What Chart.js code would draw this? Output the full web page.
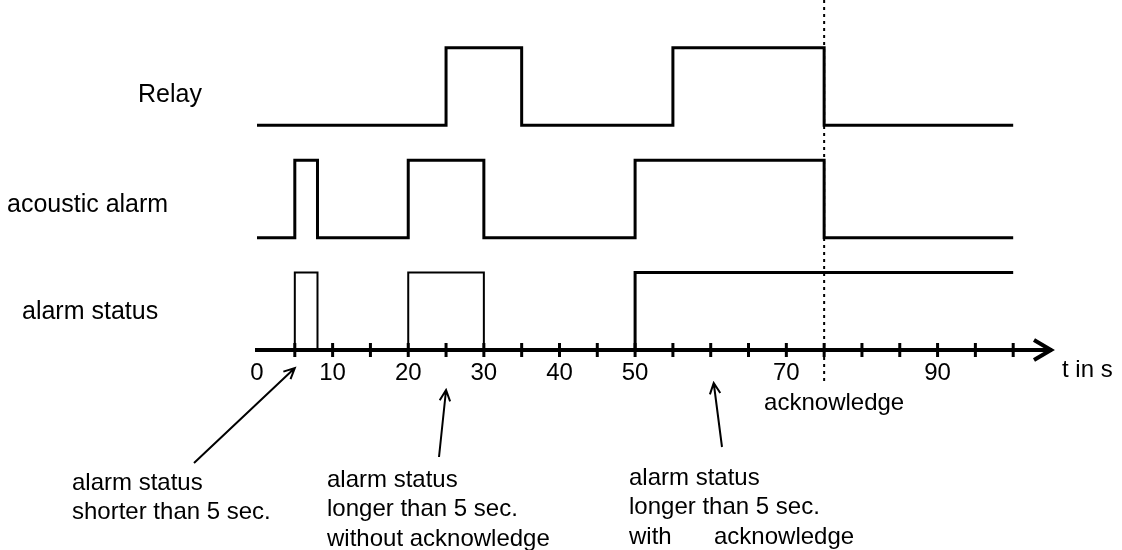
<!DOCTYPE html>
<html>
<head>
<meta charset="utf-8">
<script src="https://cdn.jsdelivr.net/npm/chart.js@4.4.1/dist/chart.umd.min.js"></script>
<style>
  html, body { margin: 0; padding: 0; background: #fff; }
  #wrap { width: 1122px; height: 550px; position: relative; }
</style>
</head>
<body>
<div id="wrap"><canvas id="timing"></canvas></div>
<script>
// switching times (s) and the state each signal takes from that time on
const relayTimes   = [0, 25, 35, 55, 75, 100];
const relayStates  = [0, 1, 0, 1, 0, 0];
const hornTimes    = [0, 5, 8, 20, 30, 50, 75, 100];
const hornStates   = [0, 1, 0, 1, 0, 1, 0, 0];
const statusTimes  = [0, 5, 8, 20, 30, 50, 100];
const statusStates = [0, 1, 0, 1, 0, 1, 1];

const signalNames = ['Relay', 'acoustic alarm', 'alarm status'];
const tickLabels  = [0, 10, 20, 30, 40, 50, 70, 90];
const ackTime   = 75;
const axisEnd   = 105;
const tickStart = 5, tickEnd = 100, tickStep = 5;

// notes under the axis, each pointing at a time
const noteTimes = [5, 25, 60];
const noteLines = [
    ['alarm status', 'shorter than 5 sec.'],
    ['alarm status', 'longer than 5 sec.', 'without acknowledge'],
    ['alarm status', 'longer than 5 sec.', 'with']
];

const FAMILY = '"Liberation Sans", Arial, sans-serif';
const FONT = '24px ' + FAMILY;

// vertical row layout (y units), one row per signal
const rowBase = [2.9, 1.45, 0];
const rowAmp = 1;

function steps(times, states, base) {
    return times.map((t, i) => ({ x: t, y: base + states[i] * rowAmp }));
}

function arrow(ctx, x1, y1, x2, y2) {
    const a = Math.atan2(y2 - y1, x2 - x1);
    const w = 12, s = 0.45;
    ctx.beginPath();
    ctx.moveTo(x1, y1);
    ctx.lineTo(x2, y2);
    ctx.moveTo(x2 - w * Math.cos(a - s), y2 - w * Math.sin(a - s));
    ctx.lineTo(x2, y2);
    ctx.lineTo(x2 - w * Math.cos(a + s), y2 - w * Math.sin(a + s));
    ctx.stroke();
}

const decor = {
    id: 'decor',
    beforeDatasetsDraw(chart) {
        // dotted acknowledge marker
        const { ctx, scales: { x } } = chart;
        const px = x.getPixelForValue(ackTime);
        ctx.save();
        ctx.strokeStyle = '#000';
        ctx.lineWidth = 2;
        ctx.setLineDash([3, 4]);
        ctx.beginPath();
        ctx.moveTo(px, 0);
        ctx.lineTo(px, x.top + 33);
        ctx.stroke();
        ctx.restore();
    },
    afterDraw(chart) {
        const { ctx, scales: { x } } = chart;
        const axisY = x.top;
        ctx.save();
        ctx.strokeStyle = '#000';
        ctx.fillStyle = '#000';
        ctx.lineCap = 'butt';

        // tick marks crossing the axis
        ctx.lineWidth = 3;
        for (let t = tickStart; t <= tickEnd; t += tickStep) {
            const px = x.getPixelForValue(t);
            ctx.beginPath();
            ctx.moveTo(px, axisY - 7);
            ctx.lineTo(px, axisY + 7);
            ctx.stroke();
        }

        // arrow head at the end of the time axis
        const tip = x.getPixelForValue(axisEnd);
        ctx.lineWidth = 4;
        ctx.beginPath();
        ctx.moveTo(tip - 17, axisY - 10);
        ctx.lineTo(tip, axisY);
        ctx.lineTo(tip - 17, axisY + 10);
        ctx.stroke();

        ctx.font = FONT;
        ctx.textBaseline = 'middle';
        ctx.textAlign = 'left';
        ctx.fillText('t in s', tip + 11, axisY + 20);
        ctx.textAlign = 'center';
        ctx.fillText('acknowledge', x.getPixelForValue(ackTime) + 10, axisY + 53);

        // signal names
        ctx.textAlign = 'left';
        ctx.font = '25px ' + FAMILY;
        const nameX = [138, 7, 22];
        const nameY = [95, 205, 312];
        signalNames.forEach((n, i) => ctx.fillText(n, nameX[i], nameY[i]));

        // notes and their arrows
        ctx.font = FONT;
        const noteX = [72, 327, 629];
        const noteY = [483, 480, 478];
        const tail = [[194, 463], [439, 457], [722, 447]];
        const tipGap = [18, 40, 33];
        ctx.lineWidth = 2;
        noteLines.forEach((lines, i) => {
            lines.forEach((l, j) => ctx.fillText(l, noteX[i], noteY[i] + j * 29.5));
            arrow(ctx, tail[i][0], tail[i][1], x.getPixelForValue(noteTimes[i]) + (i === 2 ? 3 : 0), axisY + tipGap[i]);
        });
        ctx.fillText('acknowledge', 714, noteY[2] + 2 * 29.5);
        ctx.restore();
    }
};

const ctx = document.getElementById('timing').getContext('2d');
new Chart(ctx, {
    type: 'line',
    data: {
        datasets: [
            {
                label: signalNames[0],
                data: steps(relayTimes, relayStates, rowBase[0]),
                stepped: 'before',
                borderColor: '#000',
                borderWidth: 3,
                pointRadius: 0,
                fill: false,
                clip: false
            },
            {
                label: signalNames[1],
                data: steps(hornTimes, hornStates, rowBase[1]),
                stepped: 'before',
                borderColor: '#000',
                borderWidth: 3,
                pointRadius: 0,
                fill: false,
                clip: false
            },
            {
                label: signalNames[2],
                data: steps(statusTimes, statusStates, rowBase[2]),
                stepped: 'before',
                borderColor: '#000',
                borderWidth: 2,
                segment: {
                    // the long alarm from 50 s is drawn a bit heavier
                    borderWidth: c => c.p1.parsed.x >= 50 ? 3 : 2
                },
                pointRadius: 0,
                fill: false,
                clip: false
            }
        ]
    },
    options: {
        responsive: true,
        maintainAspectRatio: false,
        animation: false,
        layout: { padding: { left: 257, right: 71, top: 40, bottom: 0 } },
        plugins: {
            legend: { display: false },
            tooltip: { enabled: false }
        },
        scales: {
            x: {
                type: 'linear',
                min: 0,
                max: axisEnd,
                grid: { display: false, drawTicks: false },
                border: { display: true, color: '#000', width: 4 },
                ticks: {
                    stepSize: 5,
                    autoSkip: false,
                    maxRotation: 0,
                    padding: 9,
                    color: '#000',
                    font: { family: FAMILY, size: 24 },
                    callback: v => tickLabels.includes(v) ? String(v) : ''
                },
                afterFit: s => { s.height = 200; }
            },
            y: { display: false, min: 0, max: 4 }
        }
    },
    plugins: [decor]
});
</script>
</body>
</html>
